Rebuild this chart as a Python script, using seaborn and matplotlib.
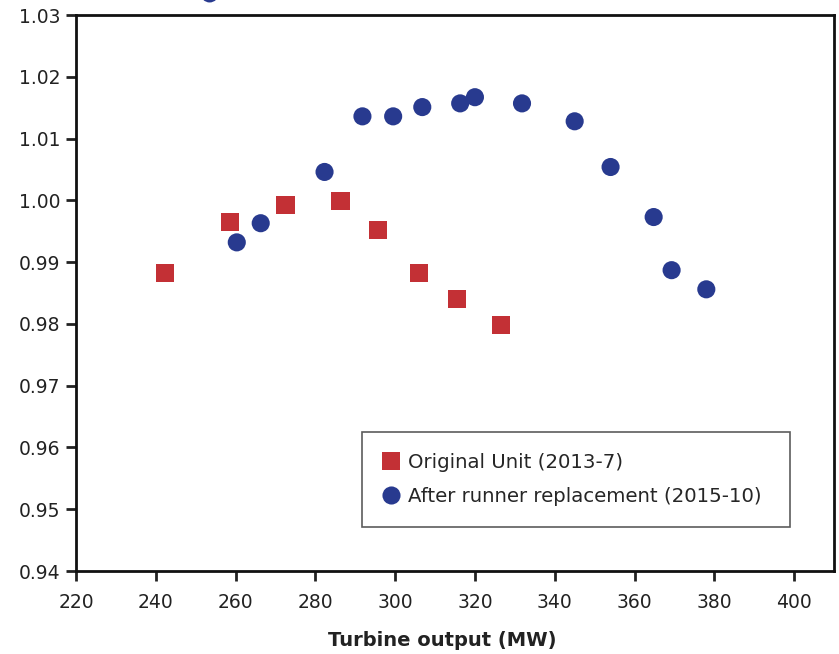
import matplotlib
matplotlib.use("Agg")
import matplotlib.pyplot as plt
import seaborn as sns
import pandas as pd
import numpy as np

orig_x = [242.3, 258.5, 272.5, 286.3, 295.8, 306.0, 315.5, 326.5]
orig_y = [0.9882, 0.9965, 0.9992, 0.9999, 0.9952, 0.9882, 0.9840, 0.9798]
after_x = [253.5, 260.3, 266.3, 282.3, 291.8, 299.5, 306.8, 316.3, 320.0, 331.8, 345.0, 354.0, 364.8, 369.3, 378.0]
after_y = [1.0335, 0.9932, 0.9963, 1.0046, 1.0136, 1.0136, 1.0151, 1.0157, 1.0167, 1.0157, 1.0128, 1.0054, 0.9973, 0.9887, 0.9856]
labels = ["Original Unit (2013-7)", "After runner replacement (2015-10)"]
xticks = [220, 240, 260, 280, 300, 320, 340, 360, 380, 400]
yticks = [0.94, 0.95, 0.96, 0.97, 0.98, 0.99, 1.00, 1.01, 1.02, 1.03]

df = pd.DataFrame({
    "x": orig_x + after_x,
    "y": orig_y + after_y,
    "series": [labels[0]] * len(orig_x) + [labels[1]] * len(after_x),
})

sns.set_style("white")
plt.rcParams["font.family"] = ["DejaVu Sans"]

fig = plt.figure(figsize=(8.39, 6.54), dpi=100)
ax = fig.add_axes([0.0906, 0.1269, 0.9034, 0.8501])

red = "#C33035"
blue = "#283A8F"
sns.scatterplot(data=df, x="x", y="y", hue="series", style="series",
                palette={labels[0]: red, labels[1]: blue},
                markers={labels[0]: "s", labels[1]: "o"},
                s=170, linewidth=0, ax=ax, clip_on=False, legend=True)

ax.set_xlim(220, 410)
ax.set_ylim(0.94, 1.03)
ax.set_xticks(xticks)
ax.set_yticks(yticks)
ax.set_yticklabels([f"{v:.2f}" for v in yticks])
ax.tick_params(axis="both", direction="out", length=7, width=2, labelsize=13.5,
               colors="#222222", left=True, bottom=True, pad=4)
ax.tick_params(axis="x", pad=9)
for sp in ax.spines.values():
    sp.set_linewidth(2)
    sp.set_color("#111111")
ax.set_xlabel("Turbine output (MW)", fontsize=14, fontweight="bold", color="#222222")
ax.xaxis.label.set_verticalalignment("center")
ax.xaxis.set_label_coords(0.483, (571 - 640) / 556)
ax.set_ylabel("")

leg = ax.legend(loc="lower left", bbox_to_anchor=(0.377, 0.079, 0.565, 0.171), mode="expand",
                fontsize=14.2, frameon=True, fancybox=False, borderpad=1.05,
                handletextpad=0.4, labelspacing=0.8, markerscale=1.0, handlelength=0.9,
                borderaxespad=0)
leg.get_frame().set_edgecolor("#333333")
leg.get_frame().set_linewidth(1.2)

fig.savefig("out.png", dpi=100)
